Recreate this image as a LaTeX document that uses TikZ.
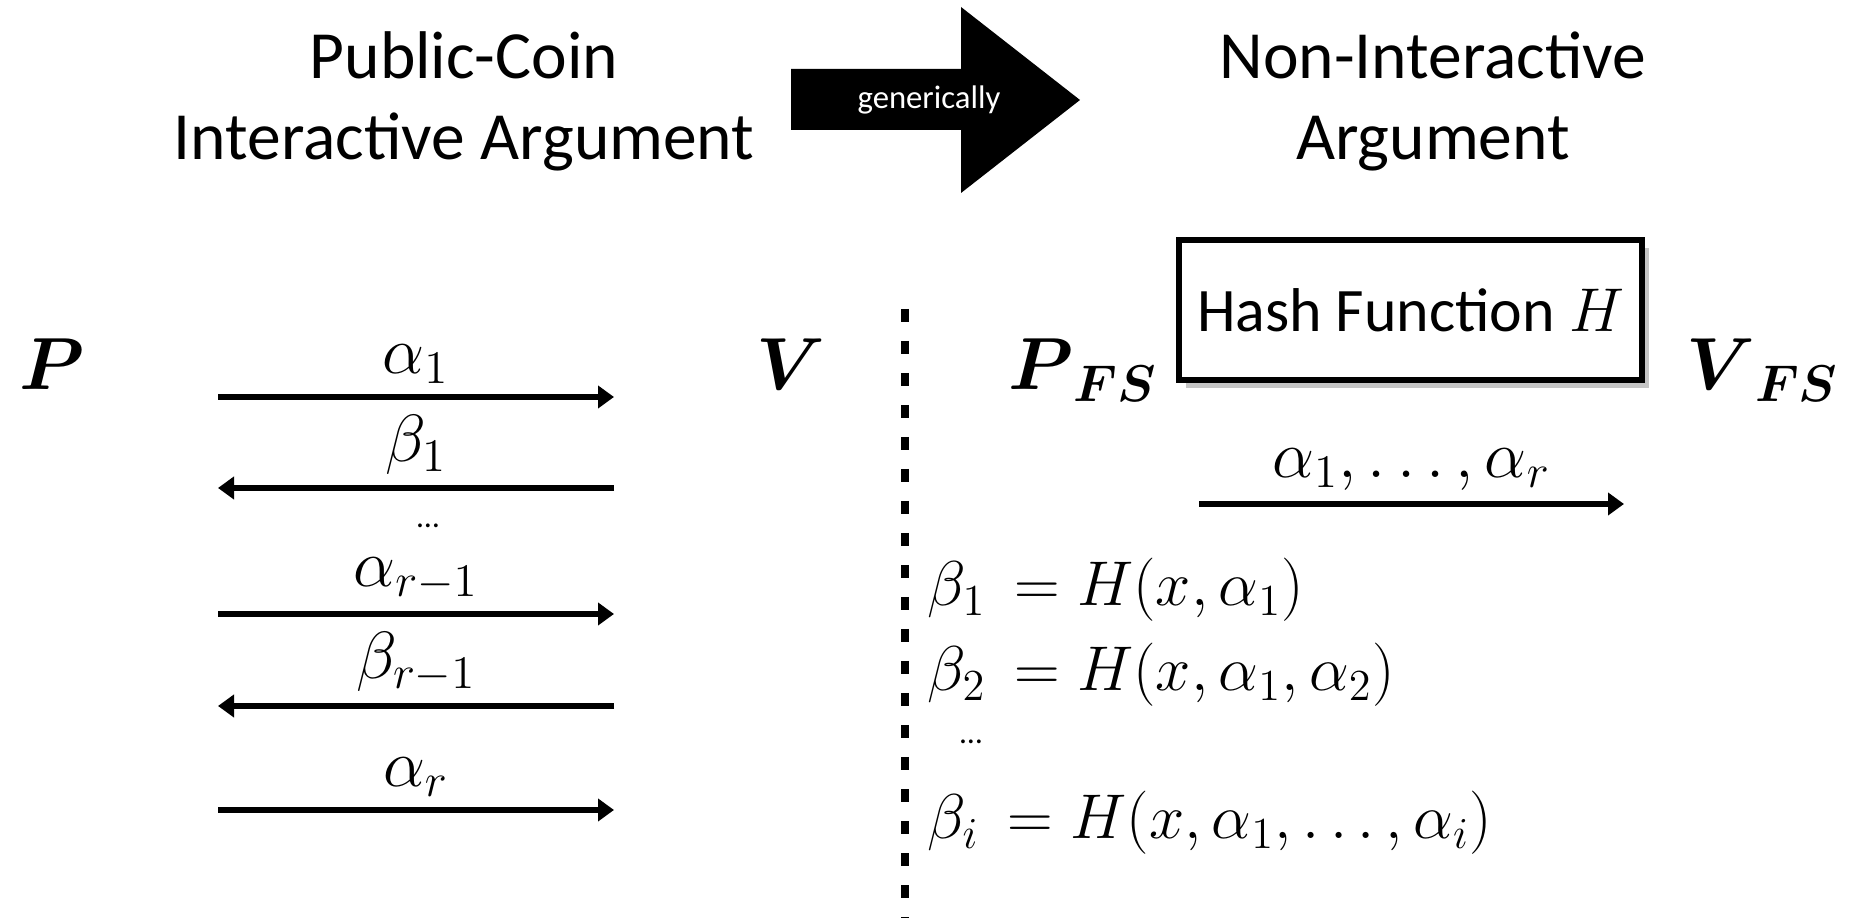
\RequirePackage{fix-cm}
\documentclass[tikz,border=0pt]{standalone}
\usepackage{amsmath,amssymb}
\usepackage{fontspec}
\setmainfont{Carlito}
\usetikzlibrary{arrows.meta, positioning, shadows, calc}

\tikzset{
  head/.style={align=center, font=\fontsize{19.2}{23}\selectfont},
  party/.style={inner sep=0pt, font=\fontsize{21}{25}\selectfont},
  msg/.style={line width=1.5pt, -{Triangle[length=1.6mm,width=2.2mm]}},
  lbl/.style={above, inner sep=3pt, font=\fontsize{19}{22}\selectfont},
  eqn/.style={anchor=base west, inner sep=0pt, font=\fontsize{18}{21}\selectfont},
  hashbox/.style={draw, line width=0.06cm, fill=white, minimum width=4.63cm, minimum height=1.40cm,
    drop shadow={shadow xshift=0.7mm, shadow yshift=-0.8mm, fill=black!45},
    font=\fontsize{17.6}{20}\selectfont},
  divider/.style={line width=0.08cm, dash pattern=on 0.13cm off 0.19cm}
}

\begin{document}
\begin{tikzpicture}[x=1cm,y=1cm]
  \useasboundingbox (0,0) rectangle (18.52,9.18);

  % titles
  \node[head] (pc) at (4.64,8.165) {Public-Coin\\Interactive Argument};
  \node[head] (ni) at (14.33,8.165) {Non-Interactive\\Argument};
  \fill (7.91,8.49) -- (9.61,8.49) -- (9.61,9.11) -- (10.80,8.18)
    -- (9.61,7.25) -- (9.61,7.88) -- (7.91,7.88) -- cycle;
  \node[white, font=\fontsize{9.3}{11}\selectfont] (gen) at (9.29,8.18) {generically};

  % interactive side
  \node[party, anchor=base west] (P) at (0.19,5.28) {$\boldsymbol{P}$};
  \node[party, anchor=base west] (V) at (7.56,5.28) {$\boldsymbol{V}$};
  \coordinate (a1L) at (2.18,5.21);  \coordinate (a1R) at (6.14,5.21);
  \coordinate (b1L) at (2.18,4.30);  \coordinate (b1R) at (6.14,4.30);
  \coordinate (a2L) at (2.18,3.04);  \coordinate (a2R) at (6.14,3.04);
  \coordinate (b2L) at (2.18,2.12);  \coordinate (b2R) at (6.14,2.12);
  \coordinate (a3L) at (2.18,1.08);  \coordinate (a3R) at (6.14,1.08);
  \draw[msg] (a1L) -- node[lbl] (a1) {$\alpha_1$} (a1R);
  \draw[msg] (b1R) -- node[lbl] (b1) {$\beta_1$} (b1L);
  \node[font=\fontsize{9}{10}\selectfont] (ldots) at (4.28,3.92) {\dots};
  \draw[msg] (a2L) -- node[lbl] (a2) {$\alpha_{r-1}$} (a2R);
  \draw[msg] (b2R) -- node[lbl] (b2) {$\beta_{r-1}$} (b2L);
  \draw[msg] (a3L) -- node[lbl] (a3) {$\alpha_r$} (a3R);

  % divider
  \coordinate (sepT) at (9.05,6.09);
  \coordinate (sepB) at (9.05,0);
  \draw[divider] (sepT) -- (sepB);

  % Fiat-Shamir side
  \node[party, anchor=base west] (Pfs) at (10.08,5.28) {$\boldsymbol{P}_{\boldsymbol{FS}}$};
  \node[party, anchor=base east] (Vfs) at (18.40,5.28) {$\boldsymbol{V}_{\boldsymbol{FS}}$};
  \node[hashbox] (hash) at (14.105,6.08) {Hash Function $H$};
  \coordinate (fsL) at (11.99,4.14);  \coordinate (fsR) at (16.24,4.14);
  \draw[msg] (fsL) -- node[lbl] (fs) {$\alpha_1, \ldots, \alpha_r$} (fsR);
  \node[eqn] (eq1) at (9.27,3.12) {$\beta_1\, = H(x, \alpha_1)$};
  \node[eqn] (eq2) at (9.27,2.27) {$\beta_2\, = H(x, \alpha_1, \alpha_2)$};
  \node[font=\fontsize{9}{10}\selectfont] (rdots) at (9.71,1.76) {\dots};
  \node[eqn] (eq3) at (9.27,0.79) {$\beta_i\, = H(x, \alpha_1, \ldots, \alpha_i)$};
\end{tikzpicture}
\end{document}
